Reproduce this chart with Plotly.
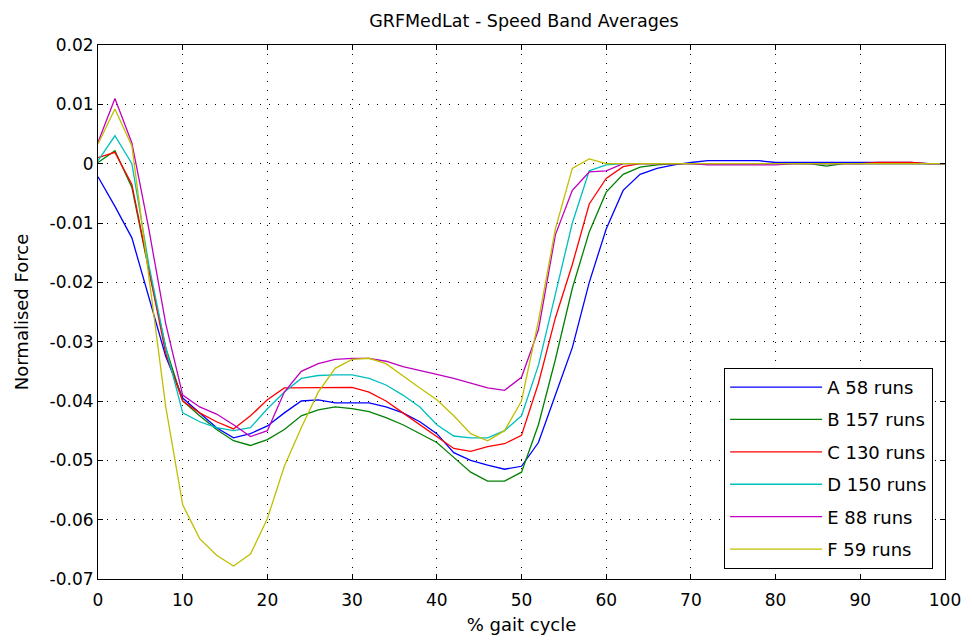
import plotly.graph_objects as go

gait = list(range(0, 101, 2))

A_58 = [-0.0022, -0.0072, -0.0125, -0.0225, -0.0325, -0.0395, -0.0420, -0.0445, -0.0462, -0.0455,
        -0.0442, -0.0420, -0.0400, -0.0398, -0.0403, -0.0403, -0.0403, -0.0410, -0.0420, -0.0435,
        -0.0455, -0.0487, -0.0500, -0.0508, -0.0515, -0.0510, -0.0470, -0.0390, -0.0310, -0.0200,
        -0.0110, -0.0045, -0.0018, -0.0008, -0.0002, 0.0002, 0.0005, 0.0005, 0.0005, 0.0005,
        0.0002, 0.0002, 0.0002, 0.0002, 0.0002, 0.0002, 0.0002, 0.0002, 0.0002, 0.0, 0.0]
B_157 = [0.0002, 0.0022, -0.0040, -0.0180, -0.0310, -0.0400, -0.0425, -0.0448, -0.0467, -0.0475,
         -0.0465, -0.0448, -0.0425, -0.0415, -0.0410, -0.0413, -0.0418, -0.0428, -0.0440, -0.0455,
         -0.0470, -0.0495, -0.0520, -0.0535, -0.0535, -0.0520, -0.0440, -0.0330, -0.0210, -0.0115,
         -0.0048, -0.0018, -0.0006, -0.0002, 0.0, 0.0, 0.0, 0.0, 0.0, 0.0,
         0.0, 0.0, 0.0, -0.0004, 0.0, 0.0, 0.0, 0.0, 0.0, 0.0, 0.0]
C_130 = [0.0010, 0.0019, -0.0035, -0.0180, -0.0320, -0.0400, -0.0420, -0.0435, -0.0447, -0.0425,
         -0.0398, -0.0378, -0.0378, -0.0378, -0.0378, -0.0377, -0.0385, -0.0400, -0.0420, -0.0440,
         -0.0460, -0.0480, -0.0485, -0.0477, -0.0472, -0.0458, -0.0370, -0.0260, -0.0170, -0.0068,
         -0.0025, -0.0005, 0.0, 0.0, 0.0, 0.0, 0.0, 0.0, 0.0, 0.0,
         0.0, 0.0, 0.0, 0.0, 0.0, 0.0, 0.0002, 0.0002, 0.0002, 0.0, 0.0]
D_150 = [0.0005, 0.0047, 0.0000, -0.0170, -0.0310, -0.0420, -0.0435, -0.0445, -0.0450, -0.0445,
         -0.0413, -0.0385, -0.0362, -0.0357, -0.0356, -0.0356, -0.0362, -0.0373, -0.0390, -0.0410,
         -0.0440, -0.0459, -0.0462, -0.0462, -0.0450, -0.0425, -0.0340, -0.0220, -0.0100, -0.0012,
         -0.0002, 0.0, 0.0, 0.0, 0.0, 0.0, 0.0, 0.0, 0.0, 0.0,
         0.0, 0.0, 0.0, 0.0, 0.0, 0.0, 0.0, 0.0, 0.0, 0.0, 0.0]
E_88 = [0.0036, 0.0110, 0.0035, -0.0110, -0.0270, -0.0390, -0.0410, -0.0422, -0.0440, -0.0460,
        -0.0450, -0.0385, -0.0350, -0.0337, -0.0330, -0.0328, -0.0328, -0.0333, -0.0342, -0.0348,
        -0.0355, -0.0362, -0.0370, -0.0378, -0.0382, -0.0360, -0.0280, -0.0120, -0.0045, -0.0014,
        -0.0012, 0.0, 0.0, 0.0, 0.0, 0.0, -0.0002, -0.0002, -0.0002, -0.0002,
        -0.0002, 0.0, 0.0, 0.0, 0.0, 0.0, 0.0, 0.0, 0.0, 0.0, 0.0]
F_59 = [0.0033, 0.0092, 0.0030, -0.0190, -0.0410, -0.0575, -0.0632, -0.0660, -0.0678, -0.0658,
        -0.0598, -0.0510, -0.0445, -0.0385, -0.0345, -0.0330, -0.0328, -0.0337, -0.0358, -0.0378,
        -0.0398, -0.0425, -0.0455, -0.0467, -0.0450, -0.0400, -0.0265, -0.0110, -0.0008, 0.0008,
        0.0, 0.0, 0.0, 0.0, 0.0, 0.0, 0.0, 0.0, 0.0, 0.0,
        0.0, 0.0, 0.0, 0.0, 0.0, 0.0, 0.0, 0.0, 0.0, 0.0, 0.0]

series_names = ["A 58 runs", "B 157 runs", "C 130 runs", "D 150 runs", "E 88 runs", "F 59 runs"]
series_values = [A_58, B_157, C_130, D_150, E_88, F_59]
series_colors = ["#0000FF", "#008000", "#FF0000", "#00BFBF", "#BF00BF", "#BFBF00"]

x_ticks = list(range(0, 101, 10))
y_tickvals = [0.02, 0.01, 0.0, -0.01, -0.02, -0.03, -0.04, -0.05, -0.06, -0.07]
y_ticktext = ["0.02", "0.01", "0", "-0.01", "-0.02", "-0.03", "-0.04", "-0.05", "-0.06", "-0.07"]

FONT = "DejaVu Sans, Verdana, sans-serif"

fig = go.Figure()
for name, vals, col in zip(series_names, series_values, series_colors):
    fig.add_trace(go.Scatter(x=gait, y=vals, mode="lines", name=name,
                             legendgroup=name,
                             line=dict(color=col, width=1.3)))

axis_common = dict(showline=True, linecolor="black", linewidth=1, mirror="ticks",
                   ticks="inside", ticklen=5, tickcolor="black",
                   showgrid=True, gridcolor="black", gridwidth=1, griddash="1px,8px",
                   zeroline=False, tickfont=dict(size=17, color="black", family=FONT))

fig.update_layout(
    width=973, height=643,
    margin=dict(l=98, r=23, t=45, b=63),
    paper_bgcolor="white", plot_bgcolor="white",
    font=dict(family=FONT, size=17, color="black"),
    title=dict(text="GRFMedLat - Speed Band Averages", x=0.5385, xanchor="center",
               y=0.968, yanchor="middle", font=dict(size=17.5, color="black", family=FONT)),
    xaxis=dict(range=[0, 100], tickvals=x_ticks, ticklabelstandoff=6,
               title=dict(text="% gait cycle", standoff=8, font=dict(size=18, family=FONT)),
               **axis_common),
    yaxis=dict(range=[-0.07, 0.02], tickvals=y_tickvals, ticktext=y_ticktext,
               title=dict(text="Normalised Force", standoff=16, font=dict(size=18, family=FONT)),
               **axis_common),
    legend=dict(x=0.986, y=0.019, xanchor="right", yanchor="bottom",
                bgcolor="white", bordercolor="black", borderwidth=1,
                font=dict(size=18, color="black", family=FONT), tracegroupgap=6,
                itemwidth=92),
    showlegend=True,
)

fig.write_html("out.html")
